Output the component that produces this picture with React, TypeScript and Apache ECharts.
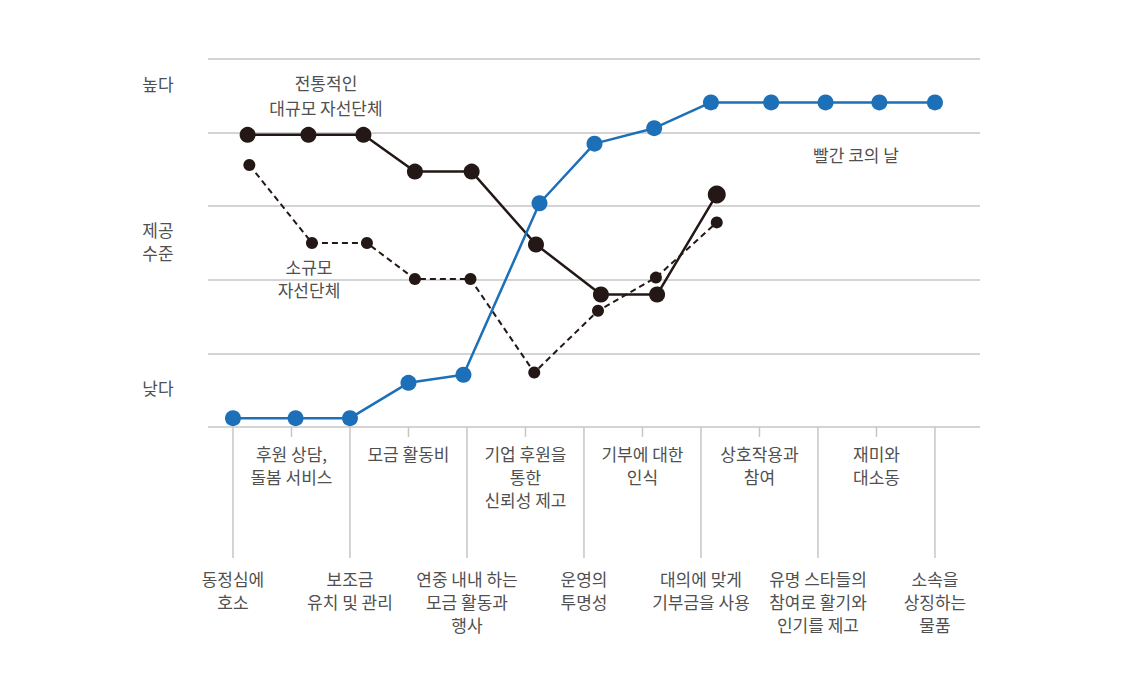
import React, { useEffect, useRef } from "react";
import * as echarts from "echarts";

const FONT = '"Noto Sans CJK KR", "Noto Sans", sans-serif';

const categories = [
  "동정심에\n호소",
  "후원 상담,\n돌봄 서비스",
  "보조금\n유치 및 관리",
  "모금 활동비",
  "연중 내내 하는\n모금 활동과\n행사",
  "기업 후원을\n통한\n신뢰성 제고",
  "운영의\n투명성",
  "기부에 대한\n인식",
  "대의에 맞게\n기부금을 사용",
  "상호작용과\n참여",
  "유명 스타들의\n참여로 활기와\n인기를 제고",
  "재미와\n대소동",
  "소속을\n상징하는\n물품",
];

// 빨간 코의 날 (blue)
const redNoseX = [0, 1.07, 2, 3, 3.94, 5.24, 6.18, 7.2, 8.17, 9.2, 10.13, 11.05, 12];
const redNoseY = [0.12, 0.12, 0.12, 0.6, 0.71, 3.04, 3.85, 4.06, 4.41, 4.41, 4.41, 4.41, 4.41];

// 전통적인 대규모 자선단체 (solid black)
const largeX = [0.25, 1.29, 2.23, 3.11, 4.08, 5.18, 6.29, 7.25, 8.27];
const largeY = [3.97, 3.97, 3.97, 3.47, 3.47, 2.48, 1.8, 1.8, 3.16];

// 소규모 자선단체 (dashed black)
const smallX = [0.28, 1.35, 2.29, 3.11, 4.06, 5.15, 6.24, 7.23, 8.27];
const smallY = [3.56, 2.5, 2.5, 2.01, 2.01, 0.74, 1.58, 2.03, 2.78];

const levelLabels = ["높다", "제공\n수준", "낮다"];
const seriesNames = ["빨간 코의 날", "전통적인\n대규모 자선단체", "소규모\n자선단체"];

const TEXT = "#505050";
const GRID = "#c6c6c6";
const BLUE = "#1d70b8";
const BLACK = "#231815";
const FS = 17;

function pairs(xs: number[], ys: number[]) {
  return xs.map((x, i) => [x, ys[i]]);
}

function txt(text: string, x: number, y: number, lh: number) {
  return {
    type: "text",
    x,
    y,
    style: {
      text,
      fill: TEXT,
      fontSize: FS,
      fontFamily: FONT,
      lineHeight: lh,
      align: "center",
      verticalAlign: "middle",
      textAlign: "center",
      textVerticalAlign: "middle",
    },
  };
}

export default function App() {
  const ref = useRef<HTMLDivElement>(null);

  useEffect(() => {
    if (!ref.current) return;
    const chart = echarts.init(ref.current, undefined, { renderer: "svg" });
    chart.setOption({
      animation: false,
      backgroundColor: "#ffffff",
      grid: { left: 208, right: 144, top: 59, bottom: 270 },
      xAxis: {
        type: "value",
        min: -0.427,
        max: 12.77,
        show: false,
      },
      yAxis: {
        type: "value",
        min: 0,
        max: 5,
        interval: 1,
        axisLine: { show: false },
        axisTick: { show: false },
        axisLabel: { show: false },
        splitLine: { lineStyle: { color: GRID, width: 1.5 } },
      },
      graphic: [
        txt(levelLabels[0], 158, 83, 23),
        txt(levelLabels[1], 158, 241, 23),
        txt(levelLabels[2], 158, 387, 23),
        txt(seriesNames[0], 856, 154, 24),
        txt(seriesNames[1], 326, 94.5, 25),
        txt(seriesNames[2], 309, 278, 23),
      ],
      series: [
        {
          type: "custom",
          clip: false,
          silent: true,
          data: categories.map((_, i) => [i, 0]),
          renderItem: (_params: any, api: any) => {
            const i = api.value(0);
            const p = api.coord([i, 0]);
            const even = i % 2 === 0;
            const len = even ? 131 : 10;
            return {
              type: "group",
              children: [
                {
                  type: "line",
                  shape: { x1: p[0], y1: p[1], x2: p[0], y2: p[1] + len },
                  style: { stroke: GRID, lineWidth: 1.5 },
                },
                {
                  type: "text",
                  x: p[0],
                  y: p[1] + (even ? 139.5 : 14.5),
                  style: {
                    text: categories[i],
                    fill: TEXT,
                    fontSize: FS,
                    fontFamily: FONT,
                    lineHeight: 23,
                    align: "center",
                    verticalAlign: "top",
                  },
                },
              ],
            };
          },
        },
        {
          name: "소규모 자선단체",
          type: "line",
          data: pairs(smallX, smallY),
          symbol: "circle",
          symbolSize: 12,
          itemStyle: { color: BLACK },
          lineStyle: { color: BLACK, width: 2, type: [6, 4] },
          z: 3,
        },
        {
          name: "전통적인 대규모 자선단체",
          type: "line",
          data: pairs(largeX, largeY),
          symbol: "circle",
          symbolSize: (_v: any, params: any) => (params.dataIndex === largeX.length - 1 ? 18 : 16),
          itemStyle: { color: BLACK },
          lineStyle: { color: BLACK, width: 2.5 },
          z: 4,
        },
        {
          name: "빨간 코의 날",
          type: "line",
          data: pairs(redNoseX, redNoseY),
          symbol: "circle",
          symbolSize: 16,
          itemStyle: { color: BLUE },
          lineStyle: { color: BLUE, width: 2.5 },
          z: 5,
        },
      ],
    });
    return () => chart.dispose();
  }, []);

  return (
    <div
      ref={ref}
      style={{ position: "fixed", left: 0, top: 0, width: 1124, height: 697, background: "#fff" }}
    />
  );
}
